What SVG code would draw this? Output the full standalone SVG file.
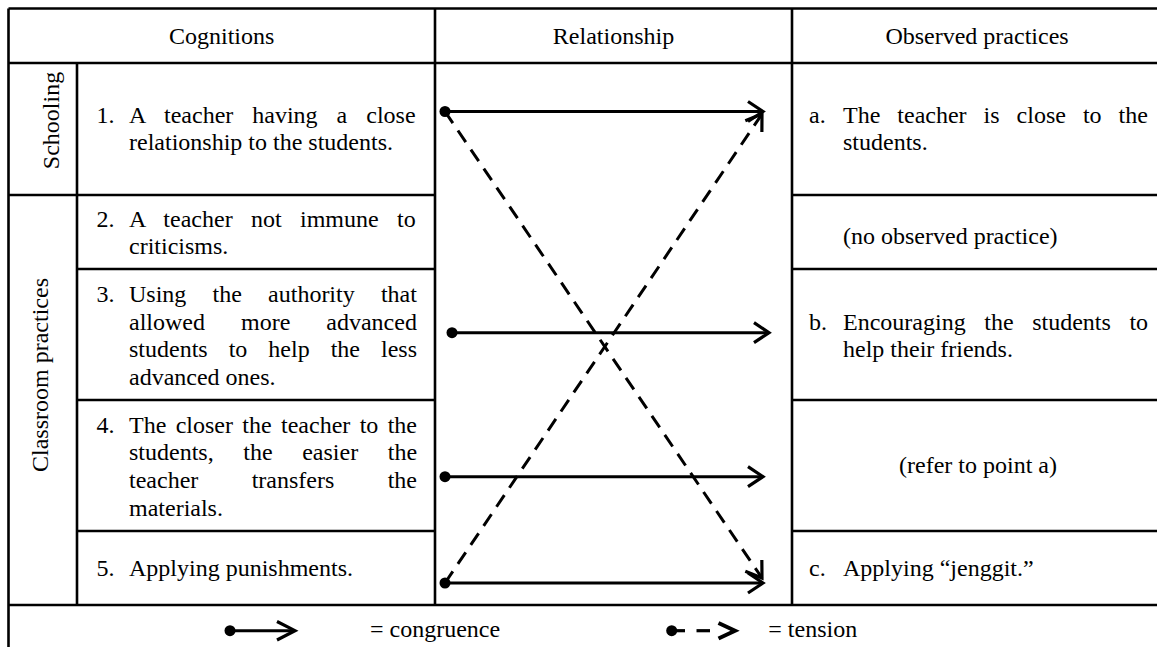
<svg xmlns="http://www.w3.org/2000/svg" width="1157" height="647" viewBox="0 0 1157 647">
<style>
text{font-family:"Liberation Serif","Times New Roman",serif;font-size:24px;fill:#000}
.grid line{stroke:#000;stroke-width:2.6}
.c{text-anchor:middle}
.arrow{stroke:#000;stroke-width:3;fill:none}
.dash{stroke-dasharray:14 9}
</style>
<defs>
<marker id="head" markerUnits="userSpaceOnUse" markerWidth="40" markerHeight="40" refX="0" refY="0" viewBox="-20 -20 40 40" orient="auto">
<path d="M-15,-10 L0,0 L-15,10" fill="none" stroke="#000" stroke-width="3.2" stroke-dasharray="none" stroke-linejoin="miter"/>
</marker>
<marker id="dot" markerUnits="userSpaceOnUse" markerWidth="20" markerHeight="20" refX="0" refY="0" viewBox="-10 -10 20 20" orient="auto">
<circle cx="0" cy="0" r="5.5" fill="#000"/>
</marker>
</defs>
<rect x="0" y="0" width="1157" height="647" fill="#fff"/>
<g class="grid" id="grid">
<line x1="8.5" y1="8.5" x2="1157" y2="8.5"/>
<line x1="8.5" y1="63" x2="1157" y2="63"/>
<line x1="8.5" y1="195" x2="435" y2="195"/>
<line x1="792" y1="195" x2="1157" y2="195"/>
<line x1="77" y1="269" x2="435" y2="269"/>
<line x1="792" y1="269" x2="1157" y2="269"/>
<line x1="77" y1="400" x2="435" y2="400"/>
<line x1="792" y1="400" x2="1157" y2="400"/>
<line x1="77" y1="531" x2="435" y2="531"/>
<line x1="792" y1="531" x2="1157" y2="531"/>
<line x1="8.5" y1="605" x2="1157" y2="605"/>
<line x1="8.5" y1="8.5" x2="8.5" y2="647"/>
<line x1="77" y1="63" x2="77" y2="605"/>
<line x1="435" y1="8.5" x2="435" y2="605"/>
<line x1="792" y1="8.5" x2="792" y2="605"/>
</g>
<g id="header">
<text class="c" x="221.7" y="43.5">Cognitions</text>
<text class="c" x="613.5" y="43.5">Relationship</text>
<text class="c" x="977" y="43.5">Observed practices</text>
</g>
<g id="group-schooling">
<text class="c" transform="translate(59,120.5) rotate(-90)">Schooling</text>
</g>
<g id="group-classroom">
<text class="c" transform="translate(48,375) rotate(-90)">Classroom practices</text>
</g>
<g id="cog1">
<text x="96.5" y="123.3">1.</text>
<text x="129" y="123.3" word-spacing="13">A teacher having a close</text>
<text x="129" y="150">relationship to the students.</text>
</g>
<g id="cog2">
<text x="96.5" y="226.5">2.</text>
<text x="129" y="226.5" word-spacing="12.35">A teacher not immune to</text>
<text x="129" y="253.5">criticisms.</text>
</g>
<g id="cog3">
<text x="96.5" y="302">3.</text>
<text x="129" y="302" word-spacing="20.2">Using the authority that</text>
<text x="129" y="329.6" word-spacing="30">allowed more advanced</text>
<text x="129" y="357.2" word-spacing="15">students to help the less</text>
<text x="129" y="384.8">advanced ones.</text>
</g>
<g id="cog4">
<text x="96.5" y="432.8">4.</text>
<text x="129" y="432.8" word-spacing="3.36">The closer the teacher to the</text>
<text x="129" y="460.4" word-spacing="23.6">students, the easier the</text>
<text x="129" y="488" word-spacing="47.4">teacher transfers the</text>
<text x="129" y="515.6">materials.</text>
</g>
<g id="cog5">
<text x="96.5" y="576">5.</text>
<text x="129" y="576">Applying punishments.</text>
</g>
<g id="obs-a">
<text x="809" y="123.3">a.</text>
<text x="843" y="123.3" word-spacing="11">The teacher is close to the</text>
<text x="843" y="150">students.</text>
</g>
<g id="obs-none">
<text x="843" y="244">(no observed practice)</text>
</g>
<g id="obs-b">
<text x="809" y="330">b.</text>
<text x="843" y="330" word-spacing="12.6">Encouraging the students to</text>
<text x="843" y="357.4">help their friends.</text>
</g>
<g id="obs-ref">
<text class="c" x="978" y="472.7">(refer to point a)</text>
</g>
<g id="obs-c">
<text x="809" y="576">c.</text>
<text x="843" y="576">Applying “jenggit.”</text>
</g>
<g id="connectors">
<line class="arrow" x1="445" y1="111.5" x2="763" y2="111.5" marker-start="url(#dot)" marker-end="url(#head)"/>
<line class="arrow" x1="452" y1="332.7" x2="769" y2="332.7" marker-start="url(#dot)" marker-end="url(#head)"/>
<line class="arrow" x1="445" y1="476.7" x2="763" y2="476.7" marker-start="url(#dot)" marker-end="url(#head)"/>
<line class="arrow" x1="445" y1="583" x2="763" y2="583" marker-start="url(#dot)" marker-end="url(#head)"/>
<line class="arrow dash" x1="445" y1="111.5" x2="762" y2="578" marker-end="url(#head)"/>
<line class="arrow dash" x1="445" y1="583" x2="762" y2="114" marker-end="url(#head)"/>
</g>
<g id="legend">
<line class="arrow" x1="230" y1="630.7" x2="294" y2="630.7" marker-start="url(#dot)"/>
<path d="M277,621.5 L295,630.7 L277,640" fill="none" stroke="#000" stroke-width="3.2"/>
<text x="370" y="637">= congruence</text>
<circle cx="671.7" cy="630.7" r="5.5" fill="#000"/>
<line x1="671.7" y1="630.7" x2="685" y2="630.7" stroke="#000" stroke-width="3.2"/>
<line x1="696.5" y1="630.7" x2="710" y2="630.7" stroke="#000" stroke-width="3.2"/>
<path d="M718.5,623 L735,630.7 L718.5,638.5" fill="none" stroke="#000" stroke-width="4"/>
<text x="768.3" y="637">= tension</text>
</g>
</svg>
